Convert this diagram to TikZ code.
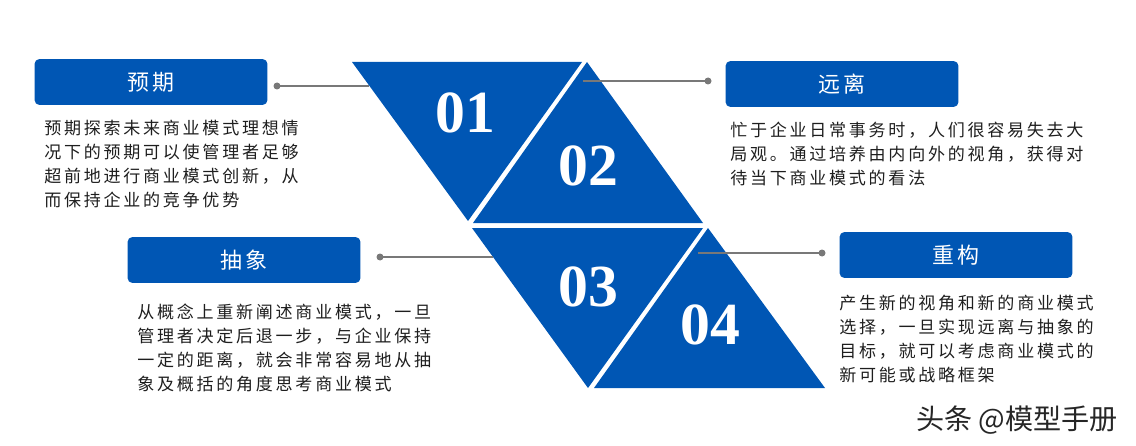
\documentclass[tikz,border=0pt]{standalone}
\usepackage{fontspec}
\setmainfont{Liberation Serif}
\newfontfamily\cjkbody[LetterSpace=16]{Noto Sans CJK SC}
\newfontfamily\cjkhead[LetterSpace=18]{Noto Sans CJK SC}
\newfontfamily\cjkmark{Noto Sans CJK SC}
\newfontfamily\numfont{Liberation Serif}
\definecolor{mainblue}{RGB}{0,86,180}
\definecolor{linegray}{RGB}{120,120,120}
\definecolor{textdark}{RGB}{30,30,30}
\begin{document}
\begin{tikzpicture}[x=0.02cm,y=-0.02cm,
  hdr/.style={fill=mainblue, rounded corners=0.1cm, minimum width=4.66cm, minimum height=0.92cm, inner sep=0pt, text=white, font=\cjkhead\fontsize{12.5}{14}\selectfont},
  body/.style={anchor=north west, inner sep=0pt, align=left, text=textdark, font=\cjkbody\fontsize{9.7}{13.66}\selectfont},
  num/.style={inner sep=0pt, text=white, font=\numfont\bfseries\fontsize{34}{40}\selectfont},
  conn/.style={draw=linegray, line width=0.85pt},
  tri/.style={fill=mainblue}]
\useasboundingbox (0,0) rectangle (1136,446);
% triangles
\fill[tri] (352,62) -- (582,62) -- (468,221) -- cycle;
\fill[tri] (587,62) -- (703,223) -- (473,223) -- cycle;
\fill[tri] (472,228) -- (703,228) -- (588,388) -- cycle;
\fill[tri] (708,228) -- (825,388) -- (594,388) -- cycle;
% numbers
\node[num] (n1) at (465,113) {01};
\node[num] (n2) at (588,166) {02};
\node[num] (n3) at (588,287) {03};
\node[num] (n4) at (710,325) {04};
% headers
\node[hdr] (h1) at (151,82) {预期};
\node[hdr] (h2) at (842,84) {远离};
\node[hdr] (h3) at (244,260) {抽象};
\node[hdr] (h4) at (956,255) {重构};
% connector points
\coordinate (d1) at (277,86);  \coordinate (e1) at (369,86);
\coordinate (d2) at (708,81);  \coordinate (e2) at (583,81);
\coordinate (d3) at (380,257); \coordinate (e3) at (493,257);
\coordinate (d4) at (822,253); \coordinate (e4) at (698,253);
\foreach \i in {1,2,3,4}{
  \draw[conn] (d\i) -- (e\i);
  \fill[linegray] (d\i) circle[radius=3.5];
}
% body texts
\node[body] (b1) at (44,120) {预期探索未来商业模式理想情\\况下的预期可以使管理者足够\\超前地进行商业模式创新，从\\而保持企业的竞争优势};
\node[body] (b2) at (730,122) {忙于企业日常事务时，人们很容易失去大\\局观。通过培养由内向外的视角，获得对\\待当下商业模式的看法};
\node[body] (b3) at (137,304) {从概念上重新阐述商业模式，一旦\\管理者决定后退一步，与企业保持\\一定的距离，就会非常容易地从抽\\象及概括的角度思考商业模式};
\node[body] (b4) at (839,295) {产生新的视角和新的商业模式\\选择，一旦实现远离与抽象的\\目标，就可以考虑商业模式的\\新可能或战略框架};
% watermark
\node[inner sep=0pt, text=black!85, font=\cjkmark\fontsize{16}{18}\selectfont] (wm) at (1017,420) {头条 @模型手册};
\end{tikzpicture}
\end{document}
